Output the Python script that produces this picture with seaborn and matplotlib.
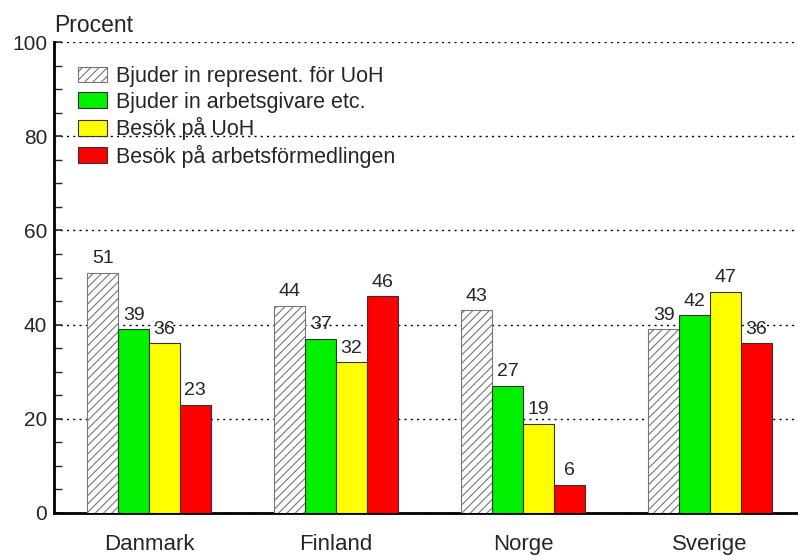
import matplotlib
matplotlib.use("Agg")
import matplotlib.pyplot as plt
import seaborn as sns
import pandas as pd
from matplotlib.ticker import MultipleLocator

countries = ["Danmark", "Finland", "Norge", "Sverige"]
series = ["Bjuder in represent. för UoH", "Bjuder in arbetsgivare etc.",
          "Besök på UoH", "Besök på arbetsförmedlingen"]
v_repr = [51, 44, 43, 39]
v_arb = [39, 37, 27, 42]
v_uoh = [36, 32, 19, 47]
v_af = [23, 46, 6, 36]

rows = []
for s, vals in zip(series, [v_repr, v_arb, v_uoh, v_af]):
    for c, v in zip(countries, vals):
        rows.append({"Land": c, "Serie": s, "Procent": v})
df = pd.DataFrame(rows)

sns.set_style("white")
plt.rcParams['font.family'] = ['Liberation Sans', 'DejaVu Sans']
plt.rcParams['hatch.color'] = '#777777'
plt.rcParams['hatch.linewidth'] = 0.8

W, H = 798, 556
ax_l, ax_t, ax_b = 54, 42, 513
fig = plt.figure(figsize=(W/100, H/100), dpi=100)
ax = fig.add_axes([ax_l/W, (H-ax_b)/H, 1 - ax_l/W, (ax_b-ax_t)/H])

palette = ["white", "#00f000", "#ffff00", "#ff0000"]
sns.barplot(data=df, x="Land", y="Procent", hue="Serie", hue_order=series,
            order=countries, palette=palette, saturation=1, width=0.66, ax=ax,
            edgecolor="#333333", linewidth=0.8, legend=True, zorder=3)

for i, cont in enumerate(ax.containers):
    for bar in cont:
        if i == 0:
            bar.set_hatch("////")
            bar.set_edgecolor("#777777")
    ax.bar_label(cont, fmt="%d", padding=4, fontsize=14)

handles, labels = ax.get_legend_handles_labels()
handles[0].set_hatch("////")
handles[0].set_edgecolor("#777777")
axw, axh = W - ax_l, ax_b - ax_t
leg = ax.legend(handles, labels, loc="upper left",
                bbox_to_anchor=(24/axw, 1 - 24/axh),
                frameon=False, fontsize=15.5, handlelength=1.35, handleheight=0.75,
                handletextpad=0.4, labelspacing=0.21, borderaxespad=0, borderpad=0)

ax.set_xlim(-0.508, 3.47)
ax.set_ylim(0, 100)
ax.yaxis.set_major_locator(MultipleLocator(20))
ax.yaxis.set_minor_locator(MultipleLocator(5))
ax.tick_params(axis="y", which="major", direction="in", length=6, width=1.2,
               labelsize=15, left=True, pad=5)
ax.tick_params(axis="y", which="minor", direction="in", length=6, width=1.0, left=True)
ax.tick_params(axis="x", length=0, labelsize=16, pad=15)
ax.yaxis.grid(True, which="major", linestyle=(0, (1.5, 3)), color="black",
              linewidth=1.0, zorder=0)
ax.set_axisbelow(True)
for sp in ["top", "right"]:
    ax.spines[sp].set_visible(False)
for sp in ["left", "bottom"]:
    ax.spines[sp].set_linewidth(2)
    ax.spines[sp].set_color("black")
ax.set_xlabel("")
ax.set_ylabel("")
ax.text(0.0, 1 + 10/axh, "Procent", transform=ax.transAxes, fontsize=16.5,
        ha="left", va="baseline")

fig.savefig("out.png", dpi=100)
